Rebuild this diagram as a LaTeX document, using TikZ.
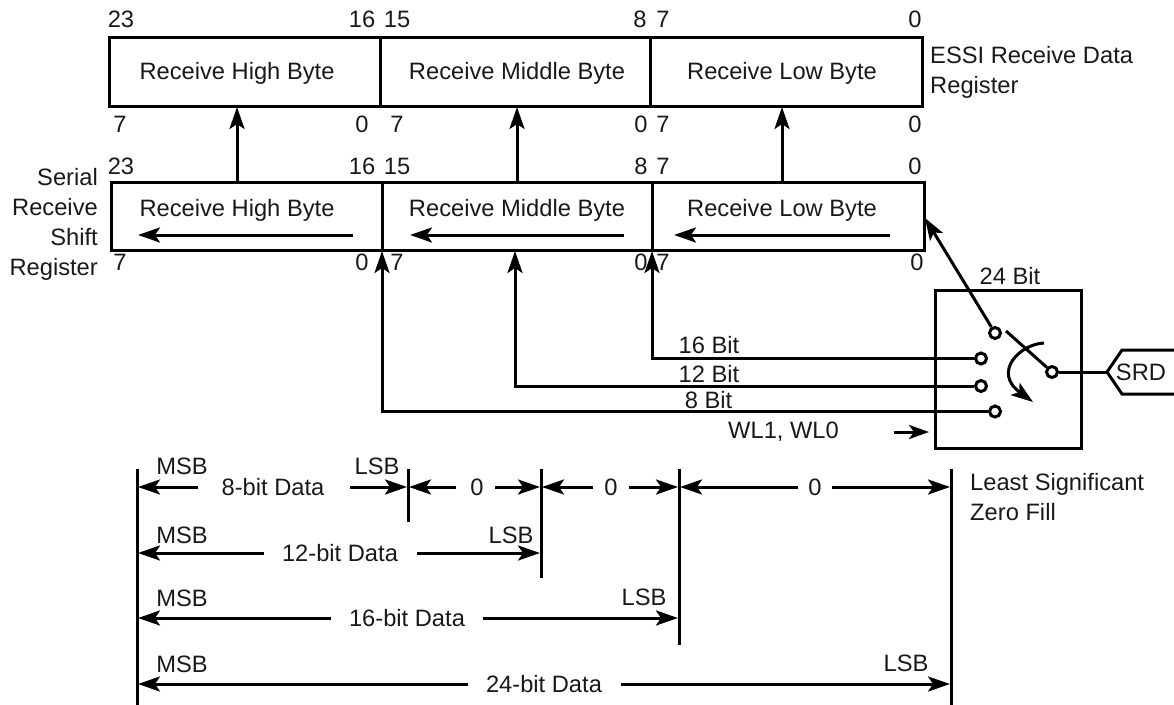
\documentclass[tikz,border=0pt]{standalone}
\usepackage{fontspec}
\setmainfont{Liberation Sans}
\usetikzlibrary{arrows.meta}
\tikzset{
  ln/.style={line width=3pt,black},
  arr/.style={ln,-{Stealth[length=22pt,width=15pt,inset=5pt]}},
  lab/.style={inner sep=0pt,font=\fontsize{23.7}{30}\selectfont,text=black!90},
  term/.style={circle,draw,line width=3pt,minimum size=11pt,inner sep=0pt,fill=white},
  regbox/.style={draw,line width=3pt,inner sep=0pt,outer sep=0pt,anchor=north west}
}
\begin{document}
\begin{tikzpicture}[x=1pt,y=-1pt]
\useasboundingbox (0,0) rectangle (1174,704);
% top register
\node[regbox,minimum width=813pt,minimum height=69pt] (top) at (109,37) {};
\coordinate (t1t) at (380.5,37); \coordinate (t1b) at (380.5,106);
\coordinate (t2t) at (650,37); \coordinate (t2b) at (650,106);
\draw[ln] (t1t)--(t1b) (t2t)--(t2b);
\node[lab] (a1) at (237,73) {Receive High Byte};
\node[lab] (a2) at (517,73) {Receive Middle Byte};
\node[lab] (a3) at (782,73) {Receive Low Byte};
\foreach \n/\x/\t in {q1/121/23,q2/362/16,q3/397/15,q4/640/8,q5/663/7,q6/915/0}
  \node[lab] (\n) at (\x,19) {\t};
\foreach \n/\x/\t in {r1/120/7,r2/362/0,r3/397/7,r4/641/0,r5/663/7,r6/915/0}
  \node[lab] (\n) at (\x,124.5) {\t};
\node[lab,align=left,anchor=west] (essi) at (930,72) {ESSI Receive Data\\Register};
% shift register
\node[regbox,minimum width=813pt,minimum height=68pt] (sh) at (111,182) {};
\coordinate (s1t) at (382,182); \coordinate (s1b) at (382,250);
\coordinate (s2t) at (652,182); \coordinate (s2b) at (652,250);
\draw[ln] (s1t)--(s1b) (s2t)--(s2b);
\node[lab] (b1) at (237,210) {Receive High Byte};
\node[lab] (b2) at (517,210) {Receive Middle Byte};
\node[lab] (b3) at (782,210) {Receive Low Byte};
\foreach \n/\x/\t in {u1/121/23,u2/362/16,u3/397/15,u4/641/8,u5/663/7,u6/915/0}
  \node[lab] (\n) at (\x,166) {\t};
\foreach \n/\x/\t in {v1/120/7,v2/362/0,v3/397/7,v4/641/0,v5/663/7,v6/917/0}
  \node[lab] (\n) at (\x,262) {\t};
\node[lab,align=right,anchor=east] (srs) at (98,224) {Serial\\Receive\\Shift\\Register};
% arrows between registers
\foreach \x/\n in {237/c1,517/c2,782/c3}{
  \coordinate (\n s) at (\x,182); \coordinate (\n e) at (\x,107);
  \draw[arr] (\n s)--(\n e);}
\foreach \a/\b/\n in {353/138/d1,624/410/d2,890/674/d3}{
  \coordinate (\n s) at (\a,235); \coordinate (\n e) at (\b,235);
  \draw[arr] (\n s)--(\n e);}
% switch
\node[draw,line width=3pt,inner sep=0pt,outer sep=0pt,minimum width=146pt,minimum height=158pt] (sw) at (1008,369) {};
\node[term] (p0) at (995,333) {};
\node[term] (p1) at (981,358.5) {};
\node[term] (p2) at (981,386) {};
\node[term] (p3) at (995,411.5) {};
\node[term] (pc) at (1052,372) {};
\coordinate (inp) at (925,218);
\draw[arr] (p0)--(inp);
\coordinate (c16) at (652,358.5); \coordinate (c16t) at (652,251);
\coordinate (c12) at (515,386); \coordinate (c12t) at (515,251);
\coordinate (c8) at (382,411.5); \coordinate (c8t) at (382,251);
\draw[arr] (p1)--(c16)--(c16t);
\draw[arr] (p2)--(c12)--(c12t);
\draw[arr] (p3)--(c8)--(c8t);
\coordinate (lev) at (1006,331);
\draw[ln] (lev)--(pc);
\coordinate (sa) at (1044,343); \coordinate (sb) at (1033,402);
\draw[arr] (sa) .. controls (1020,344) and (992,372) .. (sb);
\node[lab] (bb) at (1010,276) {24 Bit};
\node[lab] (l16) at (709,345) {16 Bit};
\node[lab] (l12) at (709,374) {12 Bit};
\node[lab] (l8) at (708.5,400) {8 Bit};
\node[lab,anchor=west] (wl) at (728,432) {WL1, WL0};
\coordinate (wa) at (894,432); \coordinate (wb) at (929,432);
\draw[ln,-{Stealth[length=20pt,width=14pt,inset=5pt]}] (wa)--(wb);
% SRD
\coordinate (tagl) at (1107,372);
\draw[ln] (pc)--(tagl);
\draw[ln] (1174,350)--(1122,350)--(tagl)--(1122,394)--(1174,394);
\node[lab] (srd) at (1141,372) {SRD};
% dimension lines
\coordinate (vAt) at (137,469); \coordinate (vAb) at (137,705);
\coordinate (vBt) at (408,469); \coordinate (vBb) at (408,522);
\coordinate (vCt) at (541,469); \coordinate (vCb) at (541,578);
\coordinate (vDt) at (679,469); \coordinate (vDb) at (679,645);
\coordinate (vEt) at (951,469); \coordinate (vEb) at (951,705);
\draw[ln] (vAt)--(vAb) (vBt)--(vBb) (vCt)--(vCb) (vDt)--(vDb) (vEt)--(vEb);
\foreach \la/\lb/\ra/\rb/\y/\cx/\t/\n in {
  198/138/350/407/487/273/8-bit Data/e1,
  456/409/495/540/487/477/0/e2,
  593/542/629/678/487/611/0/e3,
  798/680/832/950/487/815/0/e4,
  264/138/417/540/553/340/12-bit Data/e5,
  331/138/483/678/618/407/16-bit Data/e6,
  468/138/621/950/684/544/24-bit Data/e7}{
  \node[lab] (\n) at (\cx,\y) {\t};
  \coordinate (\n p) at (\la,\y); \coordinate (\n q) at (\lb,\y);
  \coordinate (\n r) at (\ra,\y); \coordinate (\n s) at (\rb,\y);
  \draw[arr] (\n p)--(\n q);
  \draw[arr] (\n r)--(\n s);
}
\foreach \n/\x/\y/\t in {m1/182/466/MSB,m2/182/535/MSB,m3/182/598/MSB,m4/182/664/MSB,
  n1/377/466/LSB,n2/511/535/LSB,n3/644/597/LSB,n4/906/663/LSB}
  \node[lab] (\n) at (\x,\y) {\t};
\node[lab,align=left,anchor=west] (lsz) at (970,497) {Least Significant\\Zero Fill};
\end{tikzpicture}
\end{document}
